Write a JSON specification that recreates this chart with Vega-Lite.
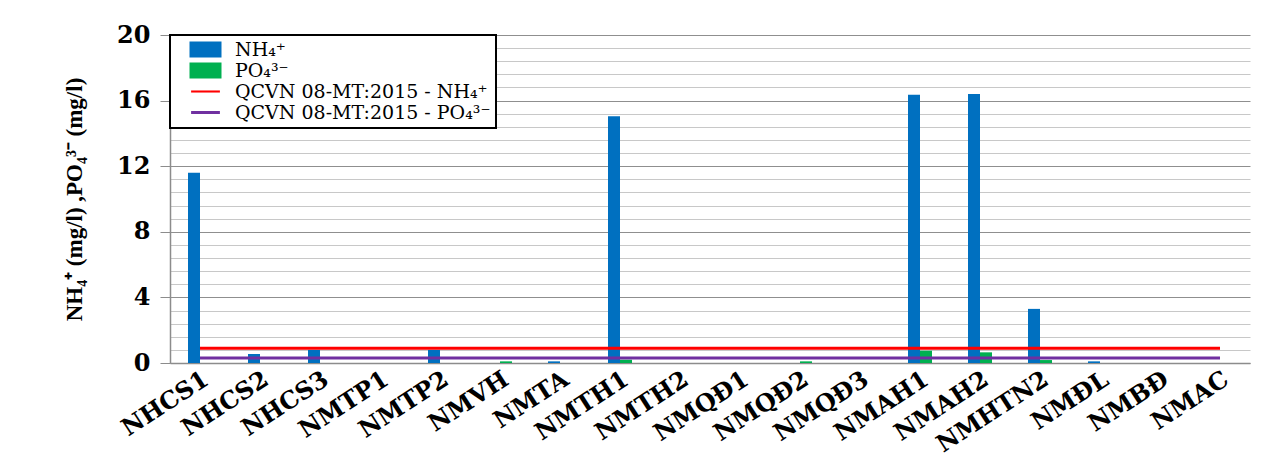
{
  "$schema": "https://vega.github.io/schema/vega-lite/v6.json",
  "width": 1080,
  "height": 328,
  "autosize": "none",
  "padding": {"left": 170, "top": 35, "right": 27, "bottom": 104},
  "background": "white",
  "config": {"view": {"stroke": null}, "font": "DejaVu Serif", "legend": {"strokeWidth": 2}},
  "datasets": {
    "obs": [
      {"station": "NHCS1", "series": "NH4", "value": 11.6},
      {"station": "NHCS1", "series": "PO4", "value": 0},
      {"station": "NHCS2", "series": "NH4", "value": 0.55},
      {"station": "NHCS2", "series": "PO4", "value": 0},
      {"station": "NHCS3", "series": "NH4", "value": 0.8},
      {"station": "NHCS3", "series": "PO4", "value": 0},
      {"station": "NMTP1", "series": "NH4", "value": 0},
      {"station": "NMTP1", "series": "PO4", "value": 0},
      {"station": "NMTP2", "series": "NH4", "value": 0.8},
      {"station": "NMTP2", "series": "PO4", "value": 0},
      {"station": "NMVH", "series": "NH4", "value": 0},
      {"station": "NMVH", "series": "PO4", "value": 0.1},
      {"station": "NMTA", "series": "NH4", "value": 0.1},
      {"station": "NMTA", "series": "PO4", "value": 0},
      {"station": "NMTH1", "series": "NH4", "value": 15.05},
      {"station": "NMTH1", "series": "PO4", "value": 0.2},
      {"station": "NMTH2", "series": "NH4", "value": 0},
      {"station": "NMTH2", "series": "PO4", "value": 0},
      {"station": "NMQĐ1", "series": "NH4", "value": 0},
      {"station": "NMQĐ1", "series": "PO4", "value": 0},
      {"station": "NMQĐ2", "series": "NH4", "value": 0},
      {"station": "NMQĐ2", "series": "PO4", "value": 0.1},
      {"station": "NMQĐ3", "series": "NH4", "value": 0},
      {"station": "NMQĐ3", "series": "PO4", "value": 0},
      {"station": "NMAH1", "series": "NH4", "value": 16.35},
      {"station": "NMAH1", "series": "PO4", "value": 0.75},
      {"station": "NMAH2", "series": "NH4", "value": 16.4},
      {"station": "NMAH2", "series": "PO4", "value": 0.65},
      {"station": "NMHTN2", "series": "NH4", "value": 3.3},
      {"station": "NMHTN2", "series": "PO4", "value": 0.18},
      {"station": "NMĐL", "series": "NH4", "value": 0.1},
      {"station": "NMĐL", "series": "PO4", "value": 0},
      {"station": "NMBĐ", "series": "NH4", "value": 0},
      {"station": "NMBĐ", "series": "PO4", "value": 0},
      {"station": "NMAC", "series": "NH4", "value": 0},
      {"station": "NMAC", "series": "PO4", "value": 0}
    ],
    "limits": [
      {"station": "NHCS1", "series": "QN", "value": 0.9},
      {"station": "NHCS2", "series": "QN", "value": 0.9},
      {"station": "NHCS3", "series": "QN", "value": 0.9},
      {"station": "NMTP1", "series": "QN", "value": 0.9},
      {"station": "NMTP2", "series": "QN", "value": 0.9},
      {"station": "NMVH", "series": "QN", "value": 0.9},
      {"station": "NMTA", "series": "QN", "value": 0.9},
      {"station": "NMTH1", "series": "QN", "value": 0.9},
      {"station": "NMTH2", "series": "QN", "value": 0.9},
      {"station": "NMQĐ1", "series": "QN", "value": 0.9},
      {"station": "NMQĐ2", "series": "QN", "value": 0.9},
      {"station": "NMQĐ3", "series": "QN", "value": 0.9},
      {"station": "NMAH1", "series": "QN", "value": 0.9},
      {"station": "NMAH2", "series": "QN", "value": 0.9},
      {"station": "NMHTN2", "series": "QN", "value": 0.9},
      {"station": "NMĐL", "series": "QN", "value": 0.9},
      {"station": "NMBĐ", "series": "QN", "value": 0.9},
      {"station": "NMAC", "series": "QN", "value": 0.9},
      {"station": "NHCS1", "series": "QP", "value": 0.3},
      {"station": "NHCS2", "series": "QP", "value": 0.3},
      {"station": "NHCS3", "series": "QP", "value": 0.3},
      {"station": "NMTP1", "series": "QP", "value": 0.3},
      {"station": "NMTP2", "series": "QP", "value": 0.3},
      {"station": "NMVH", "series": "QP", "value": 0.3},
      {"station": "NMTA", "series": "QP", "value": 0.3},
      {"station": "NMTH1", "series": "QP", "value": 0.3},
      {"station": "NMTH2", "series": "QP", "value": 0.3},
      {"station": "NMQĐ1", "series": "QP", "value": 0.3},
      {"station": "NMQĐ2", "series": "QP", "value": 0.3},
      {"station": "NMQĐ3", "series": "QP", "value": 0.3},
      {"station": "NMAH1", "series": "QP", "value": 0.3},
      {"station": "NMAH2", "series": "QP", "value": 0.3},
      {"station": "NMHTN2", "series": "QP", "value": 0.3},
      {"station": "NMĐL", "series": "QP", "value": 0.3},
      {"station": "NMBĐ", "series": "QP", "value": 0.3},
      {"station": "NMAC", "series": "QP", "value": 0.3}
    ]
  },
  "encoding": {
    "x": {
      "field": "station",
      "type": "nominal",
      "sort": null,
      "scale": {"paddingInner": 0.6, "paddingOuter": 0.3},
      "axis": {
        "title": null,
        "ticks": false,
        "domainColor": "#8c8c8c",
        "domainWidth": 1.5,
        "labelAngle": -33,
        "labelFont": "DejaVu Serif",
        "labelFontWeight": "bold",
        "labelFontSize": 24,
        "labelColor": "#000000",
        "labelPadding": 4,
        "labelLimit": 300
      }
    },
    "y": {
      "field": "value",
      "type": "quantitative",
      "scale": {"domain": [0, 20], "nice": false}
    }
  },
  "layer": [
    {
      "data": {"name": "obs"},
      "mark": {"type": "bar"},
      "encoding": {
        "xOffset": {"field": "series", "type": "nominal", "scale": {"domain": ["NH4", "PO4"]}},
        "y": {
          "field": "value",
          "type": "quantitative",
          "scale": {"domain": [0, 20], "nice": false},
          "axis": {
            "values": [0, 4, 8, 12, 16, 20],
            "orient": "left",
            "grid": true,
            "gridColor": "#8f8f8f",
            "gridWidth": 1.2,
            "domainColor": "#8c8c8c",
            "domainWidth": 1.5,
            "tickColor": "#8c8c8c",
            "tickSize": 10,
            "labelFont": "DejaVu Serif",
            "labelFontWeight": "bold",
            "labelFontSize": 24,
            "labelColor": "#000000",
            "labelPadding": 10,
            "title": "NH₄⁺ (mg/l) ,PO₄³⁻ (mg/l)",
            "titleFont": "Liberation Serif",
            "titleFontSize": 23,
            "titleFontWeight": "bold",
            "titleColor": "#000000",
            "titlePadding": 30
          }
        },
        "color": {
          "field": "series",
          "type": "nominal",
          "scale": {
            "domain": ["NH4", "PO4", "QN", "QP"],
            "range": ["#0070C0", "#00B050", "#FF0000", "#7030A0"]
          },
          "legend": {
            "title": null,
            "orient": "top-left",
            "offset": 0,
            "padding": 5,
            "fillColor": "white",
            "strokeColor": "#000000",
            "symbolSize": 256,
            "symbolOffset": 21,
            "labelOffset": 20,
            "rowPadding": 1,
            "labelLimit": 500,
            "labelFont": "DejaVu Serif",
            "labelFontSize": 19,
            "labelColor": "#000000",
            "labelExpr": "datum.value == 'NH4' ? 'NH₄⁺' : datum.value == 'PO4' ? 'PO₄³⁻' : datum.value == 'QN' ? 'QCVN 08-MT:2015 - NH₄⁺' : 'QCVN 08-MT:2015 - PO₄³⁻'",
            "encode": {
              "symbols": {
                "update": {
                  "shape": {"signal": "datum.value == 'QN' ? 'M-1.8,-0.13H1.8V0.13H-1.8Z' : datum.value == 'QP' ? 'M-1.8,-0.19H1.8V0.19H-1.8Z' : 'M-2,-1H2V1H-2Z'"},
                  "fill": {"signal": "datum.value == 'NH4' ? '#0070C0' : datum.value == 'PO4' ? '#00B050' : datum.value == 'QN' ? '#FF0000' : '#7030A0'"},
                  "stroke": {"value": "transparent"},
                  "strokeWidth": {"value": 0},
                  "opacity": {"value": 1}
                }
              }
            }
          }
        }
      }
    },
    {
      "data": {"name": "limits"},
      "mark": {"type": "line", "strokeWidth": 3},
      "encoding": {
        "y": {
          "field": "value",
          "type": "quantitative",
          "scale": {"domain": [0, 20], "nice": false},
          "axis": {
            "orient": "left",
            "values": [0.8, 1.6, 2.4, 3.2, 4.8, 5.6, 6.4, 7.2, 8.8, 9.6, 10.4, 11.2, 12.8, 13.6, 14.4, 15.2, 16.8, 17.6, 18.4, 19.2],
            "grid": true,
            "gridColor": "#c8c8c8",
            "gridWidth": 1.2,
            "labels": false,
            "ticks": false,
            "domain": false,
            "title": null
          }
        },
        "color": {"field": "series", "type": "nominal"}
      }
    }
  ],
  "resolve": {"axis": {"y": "independent"}}
}
